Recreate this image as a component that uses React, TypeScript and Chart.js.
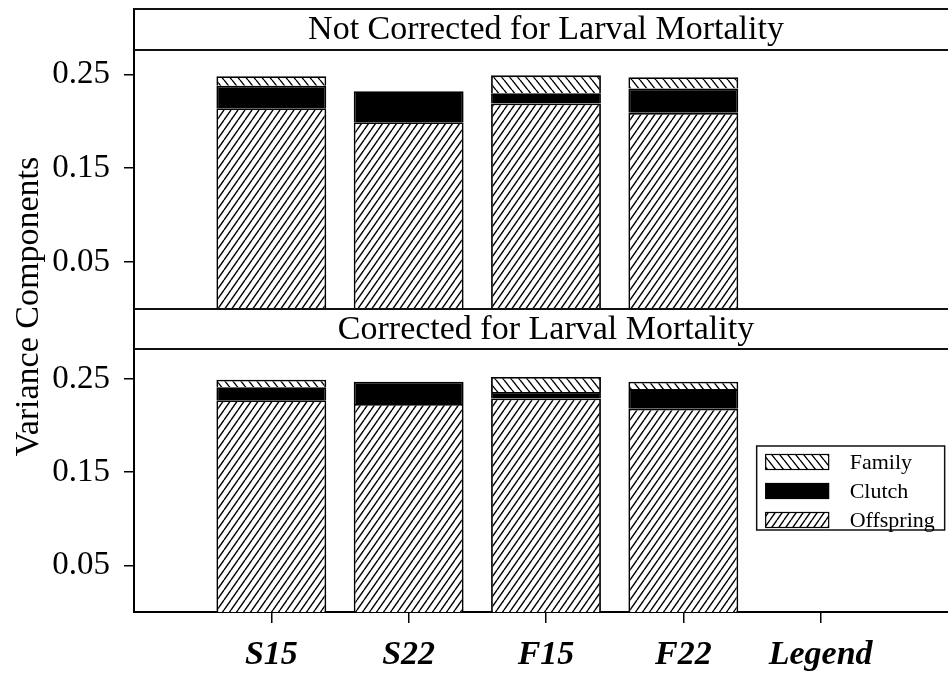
import React, { useEffect, useRef } from 'react';
import { Chart, registerables } from 'chart.js';

Chart.register(...registerables);

// ---------- data ----------
const categories = ['S15', 'S22', 'F15', 'F22'];
const xTickLabels = ['S15', 'S22', 'F15', 'F22', 'Legend'];
const yTickValues = [0.05, 0.15, 0.25];
const panelTitles = ['Not Corrected for Larval Mortality', 'Corrected for Larval Mortality'];
const yAxisTitle = 'Variance Components';
const legendOrder = ['Family', 'Clutch', 'Offspring'];

// Top panel: not corrected for larval mortality
const notCorrOffspring = [0.214, 0.199, 0.219, 0.209];
const notCorrClutch = [0.024, 0.033, 0.011, 0.026];
const notCorrFamily = [0.010, 0.0, 0.019, 0.012];

// Bottom panel: corrected for larval mortality
const corrOffspring = [0.227, 0.223, 0.229, 0.218];
const corrClutch = [0.014, 0.024, 0.007, 0.021];
const corrFamily = [0.008, 0.0, 0.016, 0.008];

const SERIF = '"Liberation Serif", "Times New Roman", serif';

function makeHatch(w: number, h: number, forward: boolean, lw: number): CanvasPattern | string {
  const c = document.createElement('canvas');
  c.width = w;
  c.height = h;
  const g = c.getContext('2d');
  if (!g) return '#888';
  g.fillStyle = '#fff';
  g.fillRect(0, 0, w, h);
  g.strokeStyle = '#000';
  g.lineWidth = lw;
  g.beginPath();
  for (const ox of [-w, 0, w]) {
    if (forward) {
      g.moveTo(ox, h);
      g.lineTo(ox + w, 0);
    } else {
      g.moveTo(ox, 0);
      g.lineTo(ox + w, h);
    }
  }
  g.stroke();
  const p = g.createPattern(c, 'repeat');
  return p || '#888';
}

export default function App() {
  const ref = useRef<HTMLCanvasElement | null>(null);

  useEffect(() => {
    const canvas = ref.current;
    if (!canvas) return;

    const offspringFill = makeHatch(7, 10, true, 1.4);
    const familyFill = makeHatch(8, 10, false, 1.4);
    const clutchFill = '#000';

    const pts = (arr: number[]) => arr.map((y, i) => ({ x: i, y }));
    const base = { borderColor: '#000', borderWidth: 1.8, stack: 'all' };

    const datasets: any[] = [
      { ...base, label: 'Offspring', data: pts(corrOffspring), backgroundColor: offspringFill, yAxisID: 'yBot' },
      { ...base, label: 'Clutch', data: pts(corrClutch), backgroundColor: clutchFill, yAxisID: 'yBot' },
      { ...base, label: 'Family', data: pts(corrFamily), backgroundColor: familyFill, yAxisID: 'yBot' },
      { ...base, label: 'Offspring', data: pts(notCorrOffspring), backgroundColor: offspringFill, yAxisID: 'yTop' },
      { ...base, label: 'Clutch', data: pts(notCorrClutch), backgroundColor: clutchFill, yAxisID: 'yTop' },
      { ...base, label: 'Family', data: pts(notCorrFamily), backgroundColor: familyFill, yAxisID: 'yTop' },
    ];

    const noPad = (s: any) => {
      s.width = 134;
      s.paddingTop = 0;
      s.paddingBottom = 0;
    };

    const valueAxis = (max: number, weight: number) => ({
      type: 'linear',
      position: 'left',
      stack: 'panels',
      stackWeight: weight,
      stacked: true,
      min: 0,
      max,
      afterBuildTicks: (s: any) => {
        s.ticks = yTickValues.map((v) => ({ value: v }));
      },
      afterFit: noPad,
      ticks: {
        callback: (v: any) => Number(v).toFixed(2),
        font: { family: SERIF, size: 33 },
        color: '#000',
        padding: 14,
        autoSkip: false,
      },
      grid: { drawOnChartArea: false, drawTicks: true, tickLength: 10, color: '#000', lineWidth: 1.5 },
      border: { color: '#000', width: 2 },
    });

    const stripAxis = (weight: number) => ({
      type: 'linear',
      position: 'left',
      stack: 'panels',
      stackWeight: weight,
      min: 0,
      max: 1,
      afterFit: noPad,
      ticks: { display: false },
      grid: { display: false },
      border: { color: '#000', width: 2 },
    });

    const decor = {
      id: 'decor',
      afterDraw(chart: any) {
        const { ctx, chartArea } = chart;
        const L = chartArea.left;
        const R = chartArea.right;
        ctx.save();
        ctx.strokeStyle = '#111';
        ctx.lineWidth = 2;
        const strips = [chart.scales.stripTop, chart.scales.stripBot];
        strips.forEach((s: any, i: number) => {
          [s.top, s.bottom].forEach((y: number) => {
            ctx.beginPath();
            ctx.moveTo(L, y);
            ctx.lineTo(R, y);
            ctx.stroke();
          });
          ctx.fillStyle = '#000';
          ctx.font = `34px ${SERIF}`;
          ctx.textAlign = 'center';
          ctx.textBaseline = 'middle';
          ctx.fillText(panelTitles[i], (L + R) / 2, (s.top + s.bottom) / 2 + 1);
        });

        // y-axis title spanning both panels
        ctx.save();
        ctx.translate(29, (chartArea.top + chartArea.bottom) / 2 - 4);
        ctx.rotate(-Math.PI / 2);
        ctx.font = `34px ${SERIF}`;
        ctx.textAlign = 'center';
        ctx.textBaseline = 'middle';
        ctx.fillStyle = '#000';
        ctx.fillText(yAxisTitle, 0, 0);
        ctx.restore();

        // legend in the "Legend" slot
        const xs = chart.scales.x;
        const yb = chart.scales.yBot;
        const cx = xs.getPixelForValue(xTickLabels.length - 1);
        const bx = cx - 64;
        const bw = 188;
        const by = yb.getPixelForValue(0.178);
        const bh = 84;
        ctx.fillStyle = '#fff';
        ctx.fillRect(bx, by, bw, bh);
        ctx.lineWidth = 1.5;
        ctx.strokeStyle = '#111';
        ctx.strokeRect(bx, by, bw, bh);
        ctx.font = `22px ${SERIF}`;
        ctx.textAlign = 'left';
        ctx.textBaseline = 'middle';
        legendOrder.forEach((name, i) => {
          const ds = chart.data.datasets.find((d: any) => d.label === name);
          const ry = by + 16 + i * 29;
          ctx.fillStyle = ds.backgroundColor;
          ctx.fillRect(bx + 9, ry - 7.5, 63, 15);
          ctx.lineWidth = 1.2;
          ctx.strokeStyle = '#000';
          ctx.strokeRect(bx + 9, ry - 7.5, 63, 15);
          ctx.fillStyle = '#000';
          ctx.fillText(name, bx + 93, ry + 1);
        });
        ctx.restore();
      },
    };

    const chart = new Chart(canvas, {
      type: 'bar',
      data: { datasets },
      options: {
        animation: false,
        responsive: false,
        maintainAspectRatio: false,
        layout: { padding: { top: 9, left: 0, right: 0, bottom: 0 } },
        plugins: { legend: { display: false }, tooltip: { enabled: false } },
        datasets: { bar: { barPercentage: 0.8, categoryPercentage: 1 } },
        scales: {
          x: {
            type: 'linear',
            position: 'bottom',
            min: -1,
            max: 5,
            offset: false,
            stacked: true,
            afterBuildTicks: (s: any) => {
              s.ticks = xTickLabels.map((_, i) => ({ value: i }));
            },
            afterFit: (s: any) => {
              s.height = 62;
              s.paddingLeft = 0;
              s.paddingRight = 0;
            },
            ticks: {
              callback: (v: any) => xTickLabels[Number(v)] ?? '',
              font: { family: SERIF, size: 34, weight: 'bold', style: 'italic' },
              color: '#000',
              padding: 12,
              autoSkip: false,
              maxRotation: 0,
            },
            grid: { offset: false, drawOnChartArea: false, drawTicks: true, tickLength: 11, color: '#000', lineWidth: 1.5 },
            border: { color: '#000', width: 2 },
          },
          yBot: valueAxis(0.282, 263),
          stripBot: stripAxis(40),
          yTop: valueAxis(0.276, 259),
          stripTop: stripAxis(41),
        } as any,
      },
      plugins: [decor],
    } as any);

    return () => chart.destroy();
  }, []);

  return (
    <div style={{ position: 'absolute', left: 0, top: 0, width: 948, height: 674, overflow: 'hidden', background: '#fff' }}>
      <canvas ref={ref} width={958} height={674} style={{ display: 'block' }} data-categories={categories.join(',')} />
    </div>
  );
}
